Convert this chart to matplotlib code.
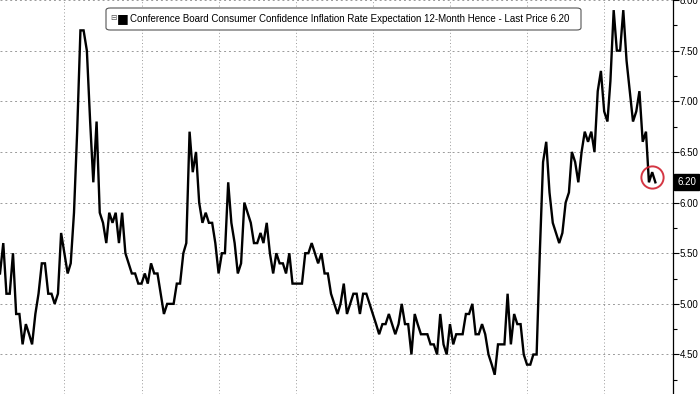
import matplotlib.pyplot as plt
import matplotlib.dates as mdates
from matplotlib.patches import FancyBboxPatch
from matplotlib.ticker import MultipleLocator, FormatStrFormatter
import pandas as pd

# Conference Board 12-month inflation expectation, monthly
seg1 = [5.3, 5.6, 5.1, 5.1, 5.5, 4.9, 4.9, 4.6, 4.8, 4.7, 4.6, 4.9, 5.1, 5.4, 5.4, 5.1,
        5.1, 5.0, 5.1, 5.7, 5.5, 5.3, 5.4, 5.9, 6.7, 7.7, 7.7, 7.5, 6.8, 6.2, 6.8, 5.9,
        5.8, 5.6, 5.9, 5.8, 5.9]
seg2 = [5.6, 5.9, 5.5, 5.4, 5.3, 5.3, 5.2, 5.2, 5.3, 5.2, 5.4, 5.3, 5.3, 5.1, 4.9, 5.0,
        5.0, 5.0, 5.2, 5.2, 5.5, 5.6, 6.7, 6.3, 6.5, 6.0, 5.8, 5.9, 5.8, 5.8, 5.6, 5.3,
        5.5, 5.5]
seg3 = [6.2, 5.8, 5.6, 5.3, 5.4, 6.0, 5.9, 5.8, 5.6, 5.6, 5.7, 5.6, 5.8, 5.5, 5.3, 5.5,
        5.4, 5.4, 5.3, 5.5, 5.2, 5.2, 5.2, 5.2, 5.5, 5.5, 5.6, 5.5, 5.4, 5.5, 5.3, 5.3,
        5.1, 5.0]
seg4 = [4.9, 5.0, 5.2, 4.9, 5.0, 5.1, 5.1, 4.9, 5.1, 5.1, 5.0, 4.9, 4.8, 4.7, 4.8, 4.8,
        4.9, 4.8, 4.7, 4.8, 5.0, 4.8, 4.8, 4.5, 4.9, 4.8, 4.7, 4.7, 4.7, 4.6, 4.6, 4.5,
        4.9, 4.6]
seg5 = [4.5, 4.8, 4.6, 4.7, 4.7, 4.7, 4.9, 4.9, 5.0, 4.7, 4.7, 4.8, 4.7, 4.5, 4.4, 4.3,
        4.6, 4.6, 4.6, 5.1, 4.6, 4.9, 4.8, 4.8, 4.5, 4.4, 4.4, 4.5, 4.5, 5.5, 6.4, 6.6,
        6.1, 5.8]
seg6 = [5.7, 5.6, 5.7, 6.0, 6.1, 6.5, 6.4, 6.2, 6.5, 6.7, 6.6, 6.7, 6.5, 7.1, 7.3, 6.9,
        6.8, 7.2, 7.9, 7.5, 7.5, 7.9, 7.4, 7.1, 6.8, 6.9, 7.1, 6.6, 6.7, 6.2, 6.3, 6.2]
values = seg1 + seg2 + seg3 + seg4 + seg5 + seg6
dates = pd.date_range("2006-05-01", periods=len(values), freq="MS")

title = "Conference Board Consumer Confidence Inflation Rate Expectation 12-Month Hence - Last Price 6.20"
last_label = "6.20"

fig = plt.figure(figsize=(7, 3.94), dpi=100)
ax = fig.add_axes([0, 0, 673 / 700, 1])

ax.plot(dates, values, color="black", lw=1.7, solid_joinstyle="miter")

ax.set_xlim(dates[0], pd.Timestamp("2023-10-15"))
ax.set_ylim(4.11, 8.0)

ax.yaxis.tick_right()
ax.yaxis.set_major_locator(MultipleLocator(0.5))
ax.yaxis.set_minor_locator(MultipleLocator(0.25))
ax.yaxis.set_major_formatter(FormatStrFormatter("%.2f"))
ax.tick_params(axis="y", which="major", direction="out", length=4, width=0.8,
               labelsize=7, pad=1, colors="black")
ax.tick_params(axis="y", which="minor", direction="out", length=3, width=0.8)
for lab in ax.get_yticklabels():
    lab.set_fontfamily("Liberation Sans")
ax.xaxis.set_major_locator(mdates.YearLocator(2))
ax.tick_params(axis="x", which="both", length=0, labelbottom=False)

for s in ["left", "top", "bottom"]:
    ax.spines[s].set_visible(False)
ax.spines["right"].set_linewidth(0.9)

ax.grid(axis="y", which="major", color="#9a9a9a", lw=0.7, linestyle=(0, (2, 3)))
ax.grid(axis="x", which="major", color="#9a9a9a", lw=0.7, linestyle=(0, (1, 2.5)))

# red circle around the latest readings
ax.plot(dates[-2], sum(values[-3:]) / 3 + 0.02, marker="o", markersize=16,
        markerfacecolor="none", markeredgecolor="#d0202e", markeredgewidth=1.4,
        alpha=0.9)

# last price tag
ax.annotate(last_label, xy=(1.0, values[-1]), xycoords=("axes fraction", "data"),
            xytext=(3, 0), textcoords="offset points", va="center", ha="left",
            fontsize=7, color="white", family="Liberation Sans",
            bbox=dict(boxstyle="square,pad=0.3", fc="black", ec="black"),
            annotation_clip=False)

# legend box
box = FancyBboxPatch((106 / 700, 1 - 30 / 394), 475 / 700, 22 / 394,
                     boxstyle="round,pad=0,rounding_size=0.006",
                     transform=fig.transFigure, fc="white", ec="#555555", lw=0.8)
fig.patches.append(box)
fig.text(110 / 700, 1 - 18 / 394, "\u229f", fontsize=5.5, color="#555555",
         va="center", ha="left")
fig.text(117 / 700, 1 - 19 / 394, "\u25a0", fontsize=9, color="black",
         va="center", ha="left")
fig.text(130 / 700, 1 - 19 / 394, title, fontsize=7.05, color="black",
         va="center", ha="left", family="Liberation Sans")

fig.savefig("out.png", dpi=100)
